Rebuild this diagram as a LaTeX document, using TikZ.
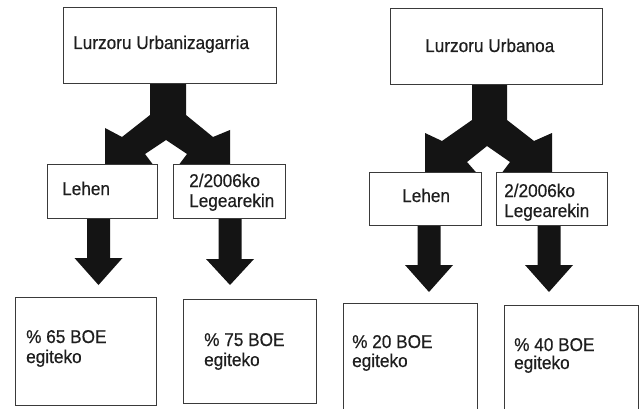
\documentclass[tikz,border=0pt]{standalone}
\usepackage{fontspec}
\setmainfont[FakeStretch=0.93,FakeBold=0.5]{Liberation Sans}
\definecolor{boxgray}{HTML}{3A3A3A}
\definecolor{txtgray}{HTML}{1E1E1E}
\newcommand\dnarrow[4]{\fill[blk] (#1-11.5,#2) -- (#1+11.5,#2) -- (#1+11.5,#3) -- (#1+24,#3) -- (#1,#4) -- (#1-24,#3) -- (#1-11.5,#3) -- cycle;}
\begin{document}
\begin{tikzpicture}[x=1pt,y=-1pt,
  box/.style={draw=boxgray, line width=1.2pt, fill=white, inner sep=0pt, anchor=north west},
  lbl/.style={anchor=base west, inner sep=0pt, font=\fontsize{18.5}{21}\selectfont, text=txtgray},
  blk/.style={fill=black!92}]
\useasboundingbox (0,0) rectangle (642,409);
\clip (0,0) rectangle (642,409);
\fill[white] (0,0) rectangle (642,409);

% split arrows (drawn first, boxes cover their tips)
\fill[blk] (150,80) -- (150,115) -- (122,137) -- (105,128) -- (105,170) -- (157,170)
  -- (145,154) -- (166,140) -- (187,154) -- (175,170) -- (230,170) -- (230,130)
  -- (213,137) -- (186,115) -- (186,80) -- cycle;
\fill[blk] (472,80) -- (472,120) -- (442,141) -- (425,133) -- (425,178) -- (481,178)
  -- (467,162) -- (487,146) -- (510,162) -- (498,178) -- (552,178) -- (552,133)
  -- (534,141) -- (507,120) -- (507,80) -- cycle;

% straight down arrows
\dnarrow{98.5}{214}{258}{285}
\dnarrow{230}{215}{259}{285}
\dnarrow{429}{222}{265}{292}
\dnarrow{549}{222}{265}{292}

% boxes
\node[box, minimum width=213pt, minimum height=76pt] (top1) at (63,7) {};
\node[box, minimum width=110pt, minimum height=54pt] (lehen1) at (47,164) {};
\node[box, minimum width=112pt, minimum height=54pt] (lege1) at (173,164) {};
\node[box, minimum width=141pt, minimum height=108pt] (p65) at (15,297) {};
\node[box, minimum width=133pt, minimum height=104pt] (p75) at (183,299) {};
\node[box, minimum width=212pt, minimum height=76pt] (top2) at (390,8) {};
\node[box, minimum width=112pt, minimum height=53pt] (lehen2) at (369,172) {};
\node[box, minimum width=111pt, minimum height=53pt] (lege2) at (496,172) {};
\node[box, minimum width=134pt, minimum height=115pt] (p20) at (343,303) {};
\node[box, minimum width=134pt, minimum height=115pt] (p40) at (504,305) {};

% labels
\node[lbl] (t1) at (73,49) {Lurzoru Urbanizagarria};
\node[lbl] (t2) at (62,195) {Lehen};
\node[lbl] (t3) at (189,187) {2/2006ko};
\node[lbl] (t4) at (189,207) {Legearekin};
\node[lbl] (t5) at (26,343) {\% 65 BOE};
\node[lbl] (t6) at (26,363) {egiteko};
\node[lbl] (t7) at (204,346) {\% 75 BOE};
\node[lbl] (t8) at (204,366) {egiteko};
\node[lbl] (t9) at (425,52) {Lurzoru Urbanoa};
\node[lbl] (t10) at (402,202) {Lehen};
\node[lbl] (t11) at (504,197) {2/2006ko};
\node[lbl] (t12) at (504,217) {Legearekin};
\node[lbl] (t13) at (352,348) {\% 20 BOE};
\node[lbl] (t14) at (352,367) {egiteko};
\node[lbl] (t15) at (514,351) {\% 40 BOE};
\node[lbl] (t16) at (514,369) {egiteko};
\end{tikzpicture}
\end{document}
